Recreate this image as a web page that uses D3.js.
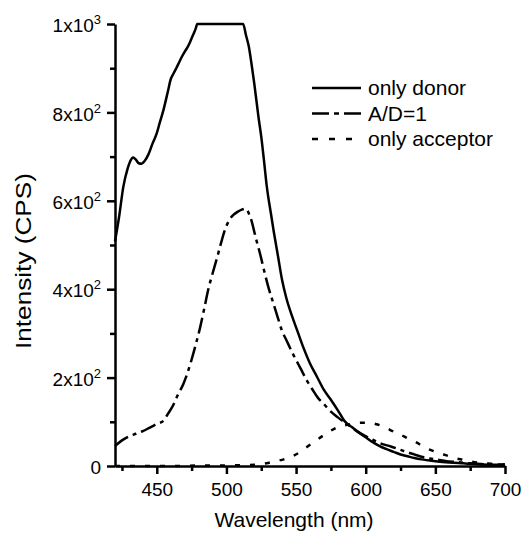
<!DOCTYPE html>
<html>
<head>
<meta charset="utf-8">
<script src="https://cdn.jsdelivr.net/npm/d3@7"></script>
<style>
    body { margin: 0; background: #fff; }
    svg { display: block; font-family: "Liberation Sans", Arial, sans-serif; }
</style>
</head>
<body>
<div id="chart"></div>
<script>
// only donor (solid), saturated at 1000 between ~479 and ~512 nm
const donorWl = [420, 423, 426, 429, 431, 433, 435, 437, 439, 441, 444, 447, 450, 452, 455, 458, 460, 462, 464, 466, 468, 470, 472, 474, 476, 478, 479,
    512, 514, 516, 518, 520, 523, 525, 527, 529, 532, 534, 537, 540, 543, 547, 551, 555, 560, 565, 570, 575, 580, 585, 590, 595, 600, 605, 610, 615, 620, 625, 630, 635, 640, 650, 660, 670, 680, 690, 700];
const donorVal = [508, 565, 632, 672, 690, 698, 693, 685, 684, 689, 705, 730, 753, 775, 808, 848, 875, 888, 900, 913, 926, 937, 947, 960, 975, 990, 1000,
    1000, 975, 950, 910, 865, 790, 745, 690, 632, 570, 530, 475, 420, 380, 340, 305, 270, 232, 202, 172, 150, 126, 101, 88, 76, 65, 54, 45, 38, 32, 26, 22, 18, 15, 11, 8, 6, 4, 3, 3];

// A/D = 1 (dash-dot)
const adWl = [420, 425, 430, 435, 440, 445, 450, 455, 458, 461, 465, 469, 472, 475, 478, 481, 484, 487, 490, 493, 496, 499, 502, 505, 508, 511, 514,
    516, 518, 520, 522, 524, 527, 530, 533, 536, 540, 543, 548, 553, 558, 562, 566, 570, 575, 580, 587, 593, 598, 604, 610, 616, 622, 628, 634, 640, 646, 652, 658, 665, 675, 685, 700];
const adVal = [45, 58, 67, 73, 79, 87, 95, 103, 118, 133, 160, 185, 210, 241, 275, 312, 355, 400, 435, 468, 503, 535, 556, 568, 575, 580, 582,
    572, 555, 530, 505, 482, 443, 406, 375, 345, 305, 285, 252, 222, 192, 172, 153, 140, 123, 110, 94, 80, 71, 61, 52, 46, 40, 33, 27, 21, 17, 14, 11, 9, 6, 4, 3];

// only acceptor (dotted)
const accWl = [420, 440, 460, 480, 500, 510, 520, 530, 536, 542, 548, 554, 560, 565, 570, 575, 580, 585, 590, 597, 602, 607, 612, 616, 620, 625, 630, 636, 641, 646, 652, 658, 664, 670, 676, 682, 690, 700];
const accVal = [0, 0, 0, 1, 1, 2, 3, 7, 11, 16, 23, 34, 48, 59, 70, 80, 88, 92, 95, 98, 98, 95, 90, 84, 78, 71, 63, 54, 45, 37, 30, 24, 18, 14, 10, 7, 5, 3];

const xMajor = [450, 500, 550, 600, 650, 700];
const xMinor = [425, 475, 525, 575, 625, 675];
const yMajor = [0, 200, 400, 600, 800, 1000];
const yMinor = [100, 300, 500, 700, 900];
const yTickBase = ['0', '2x10', '4x10', '6x10', '8x10', '1x10'];
const yTickExp = ['', '2', '2', '2', '2', '3'];

const seriesNames = ['only donor', 'A/D=1', 'only acceptor'];

const svgWidth = 526;
const svgHeight = 536;

const svg = d3.select('#chart')
    .append('svg')
    .attr('width', svgWidth)
    .attr('height', svgHeight);

const x = d3.scaleLinear().domain([420, 700]).range([115, 505]);
const y = d3.scaleLinear().domain([0, 1000]).range([466, 24]);

const series = [
    {name: seriesNames[0], dash: null, pts: donorWl.map((w, i) => [w, donorVal[i]])},
    {name: seriesNames[1], dash: '16,5,4,5', pts: adWl.map((w, i) => [w, adVal[i]])},
    {name: seriesNames[2], dash: '5,10', pts: accWl.map((w, i) => [w, accVal[i]])}
];

const line = d3.line()
    .x(d => x(d[0]))
    .y(d => y(d[1]))
    .curve(d3.curveMonotoneX);

svg.selectAll('path.series')
    .data(series)
    .join('path')
    .attr('class', 'series')
    .attr('fill', 'none')
    .attr('stroke', '#000')
    .attr('stroke-width', 2.5)
    .attr('stroke-dasharray', d => d.dash)
    .attr('d', d => line(d.pts));

// axes
const tickFont = 19;

// minor ticks first
svg.append('g')
    .attr('transform', `translate(0,${y(0)})`)
    .call(d3.axisBottom(x).tickValues(xMinor).tickSize(5).tickFormat(''))
    .call(g => g.select('.domain').remove());
svg.append('g')
    .attr('transform', `translate(${x(420)},0)`)
    .call(d3.axisLeft(y).tickValues(yMinor).tickSize(5).tickFormat(''))
    .call(g => g.select('.domain').remove());

const xAxis = svg.append('g')
    .attr('transform', `translate(0,${y(0)})`)
    .call(d3.axisBottom(x).tickValues(xMajor).tickSize(8).tickSizeOuter(0).tickPadding(9));
xAxis.selectAll('text')
    .attr('font-size', tickFont)
    .attr('font-family', '"Liberation Sans", Arial, sans-serif');

const yAxis = svg.append('g')
    .attr('transform', `translate(${x(420)},0)`)
    .call(d3.axisLeft(y).tickValues(yMajor).tickSize(8).tickSizeOuter(0).tickPadding(6));
yAxis.selectAll('text')
    .attr('font-size', tickFont)
    .attr('font-family', '"Liberation Sans", Arial, sans-serif')
    .attr('dy', '0.4em')
    .each(function(d, i) {
        const t = d3.select(this).text(yTickBase[i]);
        if (yTickExp[i]) {
            t.append('tspan')
                .attr('dy', -8)
                .attr('font-size', 13)
                .text(yTickExp[i]);
        }
    });

svg.selectAll('.domain, .tick line')
    .attr('stroke', '#000')
    .attr('stroke-width', 2.5);

// axis titles
svg.append('text')
    .attr('x', 294)
    .attr('y', 527)
    .attr('text-anchor', 'middle')
    .attr('font-size', 21)
    .text('Wavelength (nm)');

svg.append('text')
    .attr('transform', 'translate(31,261) rotate(-90)')
    .attr('text-anchor', 'middle')
    .attr('font-size', 22)
    .attr('textLength', 176)
    .attr('lengthAdjust', 'spacingAndGlyphs')
    .text('Intensity (CPS)');

// legend
const legend = svg.append('g').attr('transform', 'translate(312,88)');
const rows = legend.selectAll('g')
    .data(series)
    .join('g')
    .attr('transform', (d, i) => `translate(0,${i * 25.5})`);
rows.append('line')
    .attr('x1', 0).attr('x2', 49)
    .attr('stroke', '#000')
    .attr('stroke-width', 2.5)
    .attr('stroke-dasharray', (d, i) => i === 1 ? '17,5,5,5' : d.dash ? '6,11' : null);
rows.append('text')
    .attr('x', 56)
    .attr('y', 7)
    .attr('font-size', 21)
    .text(d => d.name);
</script>
</body>
</html>
